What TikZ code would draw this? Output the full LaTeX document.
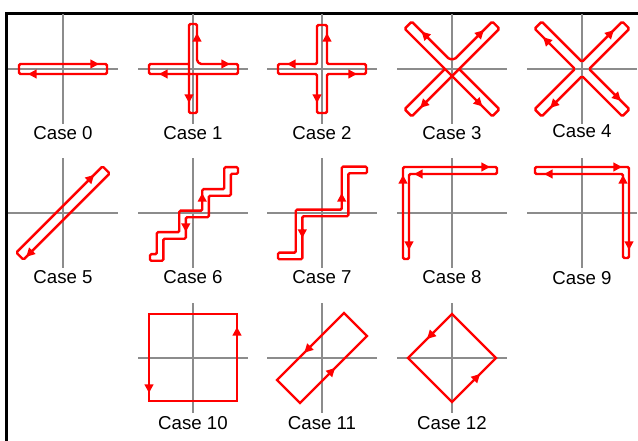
\documentclass[tikz,border=0pt]{standalone}
\usepackage{fontspec}
\setmainfont{Liberation Sans}
\usetikzlibrary{arrows.meta}
\definecolor{axisgray}{RGB}{140,140,140}

\begin{document}
\begin{tikzpicture}[x=0.75pt, y=0.75pt,
    axisline/.style={draw=axisgray, line width=1.1pt},
    contour/.style={draw=red, line width=1.8pt, rounded corners=1pt},
    sharp/.style={draw=red, line width=1.8pt},
    arr/.style={draw=red, line width=1.8pt, -{Triangle[length=6.5pt,width=6.5pt]}},
    caselabel/.style={anchor=base, font=\fontsize{14}{16}\selectfont}]

    \useasboundingbox (0,0) rectangle (638,441);
    \draw[line width=2.2pt] (6.5,0) -- (6.5,427.5) -- (638,427.5);

    \begin{scope}[shift={(63,372)}]
        \draw[axisline] (-55,0) -- (55,0);
        \draw[axisline] (0,-55) -- (0,55);
        \draw[contour] (-44,-5) rectangle (44,5);
        \draw[arr] (27,5) -- (36,5);
        \draw[arr] (-26,-5) -- (-35,-5);
        \node[caselabel] (case0) at (0,-71) {Case 0};
    \end{scope}

    \begin{scope}[shift={(193,372)}]
        \draw[axisline] (-55,0) -- (55,0);
        \draw[axisline] (0,-55) -- (0,55);
        \draw[contour] (4,-5) -- (4,-44) -- (-4,-44) -- (-4,45) -- (4,45) -- (4,8) -- (7,5)
            -- (45,5) -- (45,-5) -- (-44,-5) -- (-44,5) -- (-4,5);
        \draw[arr] (4,27) -- (4,36);
        \draw[arr] (28,5) -- (37,5);
        \draw[arr] (-25,-5) -- (-34,-5);
        \draw[arr] (-4,-25) -- (-4,-34);
        \node[caselabel] (case1) at (0,-71) {Case 1};
    \end{scope}

    \begin{scope}[shift={(322,372)}]
        \draw[axisline] (-55,0) -- (55,0);
        \draw[axisline] (0,-55) -- (0,55);
        \draw[contour] (5,5) -- (5,44) -- (-5,44) -- (-5,5) -- (-44,5) -- (-44,-5) -- (-5,-5)
            -- (-5,-44) -- (5,-44) -- (5,-5) -- (44,-5) -- (44,5) -- cycle;
        \draw[arr] (5,27) -- (5,36);
        \draw[arr] (-26,5) -- (-35,5);
        \draw[arr] (26,-5) -- (35,-5);
        \draw[arr] (-5,-25) -- (-5,-34);
        \node[caselabel] (case2) at (0,-71) {Case 2};
    \end{scope}

    \begin{scope}[shift={(452,372)}]
        \draw[axisline] (-55,0) -- (55,0);
        \draw[axisline] (0,-55) -- (0,55);
        \begin{scope}[rotate=45]
            \draw[contour] (5,-5) -- (5,-62) -- (-5,-62) -- (-5,62) -- (5,62) -- (5,9) -- (9,5)
                -- (62,5) -- (62,-5) -- (-62,-5) -- (-62,5) -- (-5,5);
            \draw[arr] (5,39) -- (5,48);
            \draw[arr] (41,5) -- (50,5);
            \draw[arr] (-41,-5) -- (-50,-5);
            \draw[arr] (-5,-39) -- (-5,-48);
        \end{scope}
        \node[caselabel] (case3) at (0,-71) {Case 3};
    \end{scope}

    \begin{scope}[shift={(582,372)}]
        \draw[axisline] (-55,0) -- (55,0);
        \draw[axisline] (0,-55) -- (0,55);
        \begin{scope}[rotate=45]
            \draw[contour] (5,5) -- (5,62) -- (-5,62) -- (-5,5) -- (-62,5) -- (-62,-5) -- (-5,-5)
                -- (-5,-62) -- (5,-62) -- (5,-5) -- (62,-5) -- (62,5) -- cycle;
            \draw[arr] (41,5) -- (50,5);
            \draw[arr] (-5,41) -- (-5,50);
            \draw[arr] (-41,-5) -- (-50,-5);
            \draw[arr] (5,-41) -- (5,-50);
        \end{scope}
        \node[caselabel] (case4) at (0,-69) {Case 4};
    \end{scope}

    \begin{scope}[shift={(63,228)}]
        \draw[axisline] (-55,0) -- (55,0);
        \draw[axisline] (0,-55) -- (0,55);
        \begin{scope}[rotate=45]
            \draw[contour] (-61,-5) rectangle (61,5);
            \draw[arr] (40,5) -- (49,5);
            \draw[arr] (-48,-5) -- (-57,-5);
        \end{scope}
        \node[caselabel] (case5) at (0,-71) {Case 5};
    \end{scope}

    \begin{scope}[shift={(193,228)}]
        \draw[axisline] (-55,0) -- (55,0);
        \draw[axisline] (0,-55) -- (0,55);
        \draw[contour] (45,45.8) -- (31.2,45.8) -- (31.2,23.8) -- (9.2,23.8) -- (9.2,2.3)
            -- (-13.8,2.3) -- (-13.8,-19.2) -- (-36.3,-19.2) -- (-36.3,-41.2) -- (-43,-41.2)
            -- (-43,-47.8) -- (-29.7,-47.8) -- (-29.7,-25.8) -- (-7.2,-25.8) -- (-7.2,-4.3)
            -- (15.8,-4.3) -- (15.8,17.2) -- (37.8,17.2) -- (37.8,39.2) -- (45,39.2) -- cycle;
        \draw[arr] (9.2,11) -- (9.2,20);
        \draw[arr] (-7.2,-10) -- (-7.2,-19);
        \node[caselabel] (case6) at (0,-71) {Case 6};
    \end{scope}

    \begin{scope}[shift={(322,228)}]
        \draw[axisline] (-55,0) -- (55,0);
        \draw[axisline] (0,-55) -- (0,55);
        \draw[contour] (45,46.3) -- (19.7,46.3) -- (19.7,3.3) -- (-26.3,3.3) -- (-26.3,-39.7)
            -- (-44,-39.7) -- (-44,-46.3) -- (-19.7,-46.3) -- (-19.7,-3.3) -- (26.3,-3.3)
            -- (26.3,39.7) -- (45,39.7) -- cycle;
        \draw[arr] (19.7,11) -- (19.7,20);
        \draw[arr] (-19.7,-16) -- (-19.7,-25);
        \node[caselabel] (case7) at (0,-71) {Case 7};
    \end{scope}

    \begin{scope}[shift={(452,228)}]
        \draw[axisline] (-55,0) -- (55,0);
        \draw[axisline] (0,-55) -- (0,55);
        \draw[contour] (-49,-46) -- (-49,46) -- (45,46) -- (45,39) -- (-43,39) -- (-43,-46) -- cycle;
        \draw[arr] (-49,29) -- (-49,38);
        \draw[arr] (29,46) -- (38,46);
        \draw[arr] (-29,39) -- (-38,39);
        \draw[arr] (-43,-28) -- (-43,-37);
        \node[caselabel] (case8) at (0,-71) {Case 8};
    \end{scope}

    \begin{scope}[shift={(582,228)}]
        \draw[axisline] (-55,0) -- (55,0);
        \draw[axisline] (0,-55) -- (0,55);
        \draw[contour] (-47,46) -- (47,46) -- (47,-45) -- (41,-45) -- (41,39) -- (-47,39) -- cycle;
        \draw[arr] (31,46) -- (40,46);
        \draw[arr] (-29,39) -- (-38,39);
        \draw[arr] (41,29) -- (41,38);
        \draw[arr] (47,-28) -- (47,-37);
        \node[caselabel] (case9) at (0,-72) {Case 9};
    \end{scope}

    \begin{scope}[shift={(193,83)}]
        \draw[axisline] (-55,0) -- (55,0);
        \draw[axisline] (0,-55) -- (0,55);
        \draw[sharp] (-44,-43) rectangle (44,44);
        \draw[arr] (44,22) -- (44,31);
        \draw[arr] (-44,-26) -- (-44,-35);
        \node[caselabel] (case10) at (0,-72) {Case 10};
    \end{scope}

    \begin{scope}[shift={(322,83)}]
        \draw[axisline] (-55,0) -- (55,0);
        \draw[axisline] (0,-55) -- (0,55);
        \draw[sharp] (22,45) -- (45,22) -- (-22,-45) -- (-45,-22) -- cycle;
        \draw[arr] (-11.3,11.7) -- (-17.7,5.3);
        \draw[arr] (6.6,-16.4) -- (13,-10);
        \node[caselabel] (case11) at (0,-72) {Case 11};
    \end{scope}

    \begin{scope}[shift={(452,83)}]
        \draw[axisline] (-55,0) -- (55,0);
        \draw[axisline] (0,-55) -- (0,55);
        \draw[sharp] (0,44) -- (44,0) -- (0,-44) -- (-44,0) -- cycle;
        \draw[arr] (-18.6,25.4) -- (-25,19);
        \draw[arr] (21.6,-22.4) -- (28,-16);
        \node[caselabel] (case12) at (0,-72) {Case 12};
    \end{scope}

\end{tikzpicture}
\end{document}
